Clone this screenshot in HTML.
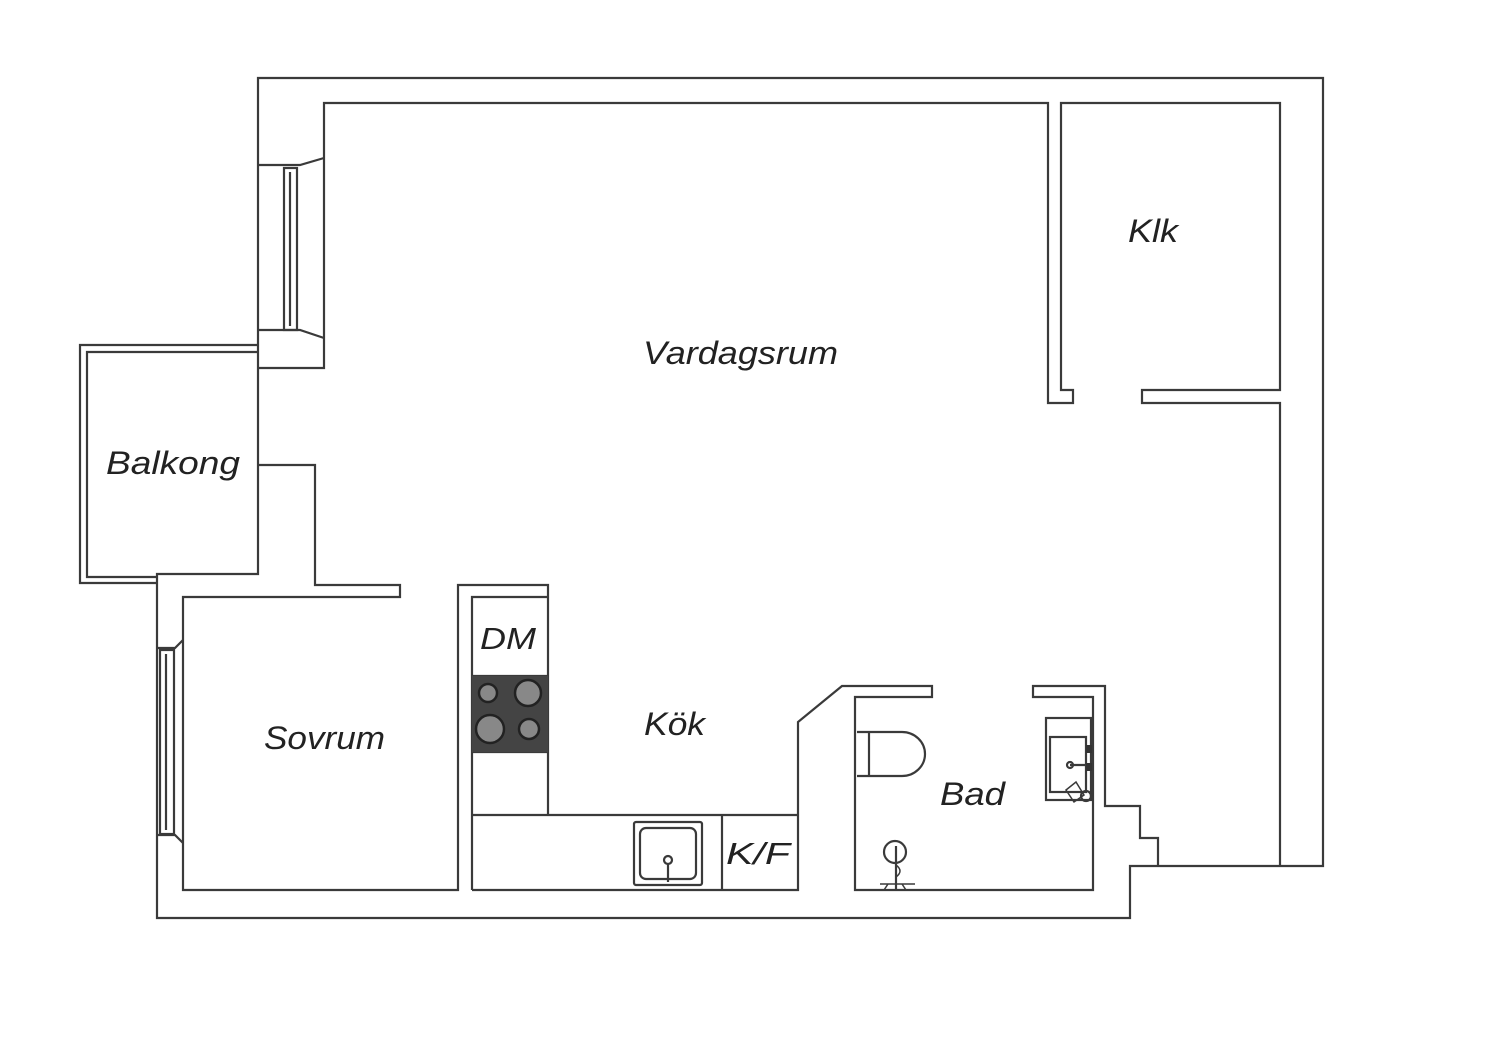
<!DOCTYPE html>
<html><head><meta charset="utf-8"><style>
html,body{margin:0;padding:0;background:#fff;}
svg{display:block;}
text{font-family:"Liberation Sans",sans-serif;font-style:italic;fill:#222;}
</style></head><body>
<svg width="1500" height="1056" viewBox="0 0 1500 1056" xmlns="http://www.w3.org/2000/svg">
<g fill="none" stroke="#3a3a3a" stroke-width="2.2" stroke-linejoin="miter">
<path d="M258,345 V78 H1323 V866 H1130 V918 H157 V574 H258 V345"/>
<path d="M258,345 H80 V583 H157"/>
<path d="M258,352 H87 V577 H157"/>
<path d="M258,368 H324 V103 H1048 V403 H1073 V390 H1061 V103 H1280 V390 H1142 V403 H1280 V866"/>
<path d="M258,165 H300 L324,158"/>
<path d="M258,330 H300 L324,338"/>
<rect x="284" y="168" width="13" height="162"/>
<line x1="290" y1="172" x2="290" y2="326"/>
<path d="M258,465 H315 V585 H400 V597 H183 V890 H458 V585 H548 V815"/>
<path d="M157,648 H175 L183,640"/>
<path d="M157,835 H175 L183,843"/>
<rect x="160" y="650" width="14" height="184"/>
<line x1="166" y1="654" x2="166" y2="830"/>
<path d="M472,890 V597 H548"/>
<line x1="472" y1="676" x2="548" y2="676"/>
<line x1="472" y1="752" x2="548" y2="752"/>
<path d="M472,815 H798"/>
<path d="M472,890 H798 V722 L842,686 H932 V697 H855 V890 H1093 V697 H1033 V686 H1105 V806 H1140 V838 H1158 V866"/>
<line x1="722" y1="815" x2="722" y2="890"/>
<path d="M857,732 H902 A23,22 0 0 1 902,776 H857"/>
<line x1="869" y1="732" x2="869" y2="776"/>
<rect x="1046" y="718" width="45" height="82"/>
<rect x="1050" y="737" width="36" height="55"/>
<line x1="1070" y1="765" x2="1088" y2="765"/>
<circle cx="1070" cy="765" r="3"/>
<circle cx="1086" cy="796" r="5"/>
<path d="M1066,790 L1076,782 L1084,795 L1074,802 Z" stroke-width="1.5"/>
<circle cx="895" cy="852" r="11"/>
<line x1="896" y1="846" x2="896" y2="890"/>
<path d="M896,865 q8,6 0,12" stroke-width="1.5"/>
<path d="M880,884 H915 M884,890 L888,884 M906,890 L902,884" stroke-width="1.5"/>
<rect x="634" y="822" width="68" height="63" rx="2"/>
<rect x="640" y="828" width="56" height="51" rx="6"/>
<circle cx="668" cy="860" r="4"/>
<line x1="668" y1="864" x2="668" y2="882"/>
</g>
<rect x="1086" y="745" width="6" height="8" fill="#333"/>
<rect x="1086" y="763" width="6" height="8" fill="#333"/>
<rect x="472" y="676" width="76" height="76" fill="#444"/>
<g stroke="#222" stroke-width="2.5" fill="#888">
<circle cx="488" cy="693" r="9"/>
<circle cx="528" cy="693" r="13"/>
<circle cx="490" cy="729" r="14"/>
<circle cx="529" cy="729" r="10"/>
</g>
<text x="643" y="364" font-size="32" textLength="195" lengthAdjust="spacingAndGlyphs">Vardagsrum</text>
<text x="1128" y="242" font-size="32" textLength="50" lengthAdjust="spacingAndGlyphs">Klk</text>
<text x="106" y="474" font-size="32" textLength="134" lengthAdjust="spacingAndGlyphs">Balkong</text>
<text x="264" y="749" font-size="32" textLength="121" lengthAdjust="spacingAndGlyphs">Sovrum</text>
<text x="644" y="735" font-size="32" textLength="61" lengthAdjust="spacingAndGlyphs">Kök</text>
<text x="940" y="805" font-size="32" textLength="65" lengthAdjust="spacingAndGlyphs">Bad</text>
<text x="480" y="649" font-size="31" textLength="56" lengthAdjust="spacingAndGlyphs">DM</text>
<text x="726" y="864" font-size="31" textLength="64" lengthAdjust="spacingAndGlyphs">K/F</text>
</svg>
</body></html>
